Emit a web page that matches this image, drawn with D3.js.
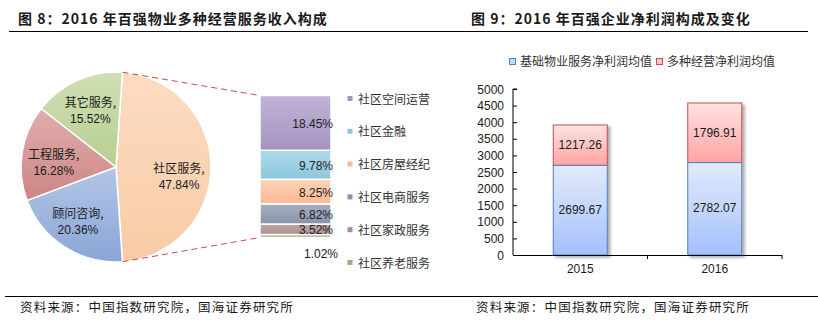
<!DOCTYPE html>
<html>
<head>
<meta charset="utf-8">
<script src="https://cdn.jsdelivr.net/npm/d3@7"></script>
<style>
  html, body { margin: 0; padding: 0; background: #fff; }
  svg { display: block; }
  text { font-family: "Liberation Sans", Arial, "Noto Sans CJK SC", sans-serif; fill: #1a1a1a; }
  .cjk { font-family: "Noto Sans CJK SC", "Liberation Sans", sans-serif; }
</style>
</head>
<body>
<svg id="chart" width="818" height="328"></svg>
<script>
// Figure 8: revenue mix of diversified services (pie + breakdown of 社区服务)
const pieNames = ["社区服务", "顾问咨询", "工程服务", "其它服务"];
const pieValues = [47.84, 20.36, 16.28, 15.52];
const pieColors = [["#FCDCC2", "#F8CBA6"], ["#B3C5E5", "#8AA6D6"], ["#E0AFAE", "#CC8583"], ["#D0DFB4", "#B7CF92"]];

const subNames = ["社区空间运营", "社区金融", "社区房屋经纪", "社区电商服务", "社区家政服务", "社区养老服务"];
const subValues = [18.45, 9.78, 8.25, 6.82, 3.52, 1.02];
const subColors = [["#C1B4D6", "#A593C1"], ["#AEDAE8", "#8CC8DB"], ["#FED3B8", "#FCB892"], ["#A7B0C1", "#8893A9"], ["#BFA6A6", "#AA8E8E"], ["#B2BC9E", "#9EAA88"]];

// Figure 9: net profit structure
const years = ["2015", "2016"];
const baseProfit = [2699.67, 2782.07];
const diversProfit = [1217.26, 1796.91];
const seriesNames = ["基础物业服务净利润均值", "多种经营净利润均值"];
const yTicks = [0, 500, 1000, 1500, 2000, 2500, 3000, 3500, 4000, 4500, 5000];

const svg = d3.select("#chart");
const defs = svg.append("defs");

function vGrad(id, c) {
  const g = defs.append("linearGradient").attr("id", id)
    .attr("x1", 0).attr("y1", 0).attr("x2", 0).attr("y2", 1);
  g.append("stop").attr("offset", "0%").attr("stop-color", c[0]);
  g.append("stop").attr("offset", "100%").attr("stop-color", c[1]);
  return `url(#${id})`;
}

// ---- Titles and rules ----
svg.append("text").attr("x", 18).attr("y", 24).attr("class", "cjk")
  .style("font-size", "14px").style("font-weight", "bold").style("letter-spacing", "1px")
  .text("图 8：2016 年百强物业多种经营服务收入构成");
svg.append("text").attr("x", 471).attr("y", 24).attr("class", "cjk")
  .style("font-size", "14px").style("font-weight", "bold").style("letter-spacing", "1px")
  .text("图 9：2016 年百强企业净利润构成及变化");
svg.append("line").attr("x1", 9).attr("x2", 808).attr("y1", 31.5).attr("y2", 31.5)
  .attr("stroke", "#000").attr("stroke-width", 1.2);
svg.append("line").attr("x1", 5).attr("x2", 818).attr("y1", 296.5).attr("y2", 296.5)
  .attr("stroke", "#000").attr("stroke-width", 1.2);
svg.append("text").attr("x", 20).attr("y", 312).attr("class", "cjk")
  .style("font-size", "12.5px").style("letter-spacing", "1.2px")
  .text("资料来源：中国指数研究院，国海证券研究所");
svg.append("text").attr("x", 476).attr("y", 312).attr("class", "cjk")
  .style("font-size", "12.5px").style("letter-spacing", "1.2px")
  .text("资料来源：中国指数研究院，国海证券研究所");

// ---- Pie ----
const cx = 116, cy = 167, R = 95;
const share0 = pieValues[0] / d3.sum(pieValues);
const start = Math.PI / 2 - share0 * Math.PI;
const pie = d3.pie().sort(null).startAngle(start).endAngle(start + 2 * Math.PI);
const arcs = pie(pieValues);
const arc = d3.arc().innerRadius(0).outerRadius(R);
const labelArc = d3.arc().innerRadius(63).outerRadius(63);

const pieG = svg.append("g").attr("transform", `translate(${cx},${cy})`);
pieG.selectAll("path").data(arcs).join("path")
  .attr("d", arc)
  .attr("fill", (d, i) => vGrad("pg" + i, pieColors[i]))
  .attr("stroke", "#fff").attr("stroke-width", 1.5);

const labelNudge = [[0, 9], [-4, 1], [0, 5], [0, 1]];
arcs.forEach((d, i) => {
  const [lx, ly] = labelArc.centroid(d);
  const x = lx + labelNudge[i][0], y = ly + labelNudge[i][1];
  const t = pieG.append("text").attr("text-anchor", "middle").style("font-size", "12px");
  t.append("tspan").attr("class", "cjk").attr("x", x).attr("y", y - 3).text(pieNames[i] + ",");
  t.append("tspan").attr("x", x).attr("y", y + 13).text(pieValues[i].toFixed(2) + "%");
});

// ---- Breakdown stacked bar ----
const bx0 = 260, bw = 71;
const yb = d3.scaleLinear().domain([0, d3.sum(subValues)]).range([237.5, 95.5]);
let acc = 0;
const segs = subValues.map((v, i) => ({ v, i })).reverse().map(s => {
  const o = { ...s, y0: acc, y1: acc + s.v }; acc += s.v; return o;
});

// dashed connectors from the 社区服务 slice to the bar
const a0 = start, a1 = start + share0 * 2 * Math.PI;
const conn = [
  [cx + R * Math.sin(a0), cy - R * Math.cos(a0), bx0, yb(d3.sum(subValues))],
  [cx + R * Math.sin(a1), cy - R * Math.cos(a1), bx0, yb(0)]
];
svg.selectAll("line.conn").data(conn).join("line").attr("class", "conn")
  .attr("x1", d => d[0]).attr("y1", d => d[1]).attr("x2", d => d[2]).attr("y2", d => d[3])
  .attr("stroke", "#C0504D").attr("stroke-width", 1).attr("stroke-dasharray", "6,4");

svg.selectAll("rect.sub").data(segs).join("rect").attr("class", "sub")
  .attr("x", bx0).attr("width", bw)
  .attr("y", d => yb(d.y1)).attr("height", d => yb(d.y0) - yb(d.y1))
  .attr("fill", d => vGrad("sg" + d.i, subColors[d.i]))
  .attr("stroke", "#fff").attr("stroke-width", 1.5);

segs.forEach(d => {
  const last = d.i === subValues.length - 1;
  svg.append("text").attr("text-anchor", "end")
    .attr("x", last ? 338 : 333)
    .attr("y", last ? yb(d.y0) + 20 : (yb(d.y0) + yb(d.y1)) / 2 + 5)
    .style("font-size", "12px").style("fill", "#222")
    .text(d.v.toFixed(2) + "%");
});

// legend for breakdown
subNames.forEach((n, i) => {
  const y = 99 + i * 32.8;
  svg.append("rect").attr("x", 347.5).attr("y", y - 3).attr("width", 5).attr("height", 5)
    .attr("fill", subColors[i][1]);
  svg.append("text").attr("class", "cjk").attr("x", 358).attr("y", y + 4.5)
    .style("font-size", "12px").style("fill", "#333").text(n);
});

// ---- Figure 9: stacked column chart ----
const xL = 513, xR = 782, y0px = 255, y1px = 89;
const x = d3.scaleBand().domain(years).range([xL, xR]).padding(0);
const y = d3.scaleLinear().domain([0, 5000]).range([y0px, y1px]);
const barW = 54;

const shadow = defs.append("filter").attr("id", "shadow")
  .attr("x", "-20%").attr("y", "-10%").attr("width", "150%").attr("height", "130%");
shadow.append("feDropShadow").attr("dx", 2.5).attr("dy", 2).attr("stdDeviation", 1.6)
  .attr("flood-color", "#000").attr("flood-opacity", 0.35);

const blueFill = vGrad("blueBar", ["#E2EBFC", "#A4C0FA"]);
const redFill = vGrad("redBar", ["#FFE3E3", "#FFA3A3"]);

const colG = svg.append("g");
years.forEach((yr, i) => {
  const bx = x(yr) + x.bandwidth() / 2 - barW / 2;
  const g = colG.append("g").attr("filter", "url(#shadow)");
  g.append("rect").attr("x", bx).attr("width", barW)
    .attr("y", y(baseProfit[i] + diversProfit[i]))
    .attr("height", y(baseProfit[i]) - y(baseProfit[i] + diversProfit[i]))
    .attr("fill", redFill).attr("stroke", "#C0504D").attr("stroke-width", 1);
  g.append("rect").attr("x", bx).attr("width", barW)
    .attr("y", y(baseProfit[i]))
    .attr("height", y(0) - y(baseProfit[i]))
    .attr("fill", blueFill).attr("stroke", "#4F81BD").attr("stroke-width", 1);
});
years.forEach((yr, i) => {
  const mx = x(yr) + x.bandwidth() / 2;
  svg.append("text").attr("x", mx).attr("y", (y(baseProfit[i]) + y(0)) / 2 + 4 - 0.5)
    .attr("text-anchor", "middle").style("font-size", "12px").text(baseProfit[i].toFixed(2));
  svg.append("text").attr("x", mx).attr("y", (y(baseProfit[i]) + y(baseProfit[i] + diversProfit[i])) / 2 + 4)
    .attr("text-anchor", "middle").style("font-size", "12px").text(diversProfit[i].toFixed(2));
});

// y axis with inward ticks
const yAxis = svg.append("g").attr("transform", `translate(${xL},0)`)
  .call(d3.axisRight(y).tickValues(yTicks).tickSize(4).tickFormat(""));
yAxis.select(".domain").attr("stroke", "#000").attr("d", `M4,${y1px}H0V${y0px}`);
yAxis.selectAll(".tick line").attr("stroke", "#000");
svg.selectAll("text.ytl").data(yTicks).join("text").attr("class", "ytl")
  .attr("x", xL - 9).attr("y", d => y(d) + 4.5).attr("text-anchor", "end")
  .style("font-size", "12px").text(d => d);

// x axis with category-boundary ticks
svg.append("line").attr("x1", xL).attr("x2", xR).attr("y1", y0px + 0.5).attr("y2", y0px + 0.5)
  .attr("stroke", "#000");
svg.selectAll("line.xt").data(years).join("line").attr("class", "xt")
  .attr("x1", d => x(d) + x.bandwidth()).attr("x2", d => x(d) + x.bandwidth())
  .attr("y1", y0px).attr("y2", y0px + 4).attr("stroke", "#000");
svg.selectAll("text.xl").data(years).join("text").attr("class", "xl")
  .attr("x", d => x(d) + x.bandwidth() / 2).attr("y", y0px + 18)
  .attr("text-anchor", "middle").style("font-size", "12px").text(d => d);

// legend for Figure 9
const legItems = [
  { name: seriesNames[0], x: 509, fill: "#C6D9F8", stroke: "#4F81BD" },
  { name: seriesNames[1], x: 656, fill: "#FFC8C8", stroke: "#C0504D" }
];
legItems.forEach(d => {
  svg.append("rect").attr("x", d.x + 0.5).attr("y", 58.5).attr("width", 6).attr("height", 6)
    .attr("fill", d.fill).attr("stroke", d.stroke).attr("stroke-width", 1);
  svg.append("text").attr("class", "cjk").attr("x", d.x + 11).attr("y", 66)
    .style("font-size", "12px").style("fill", "#333").text(d.name);
});
</script>
</body>
</html>
